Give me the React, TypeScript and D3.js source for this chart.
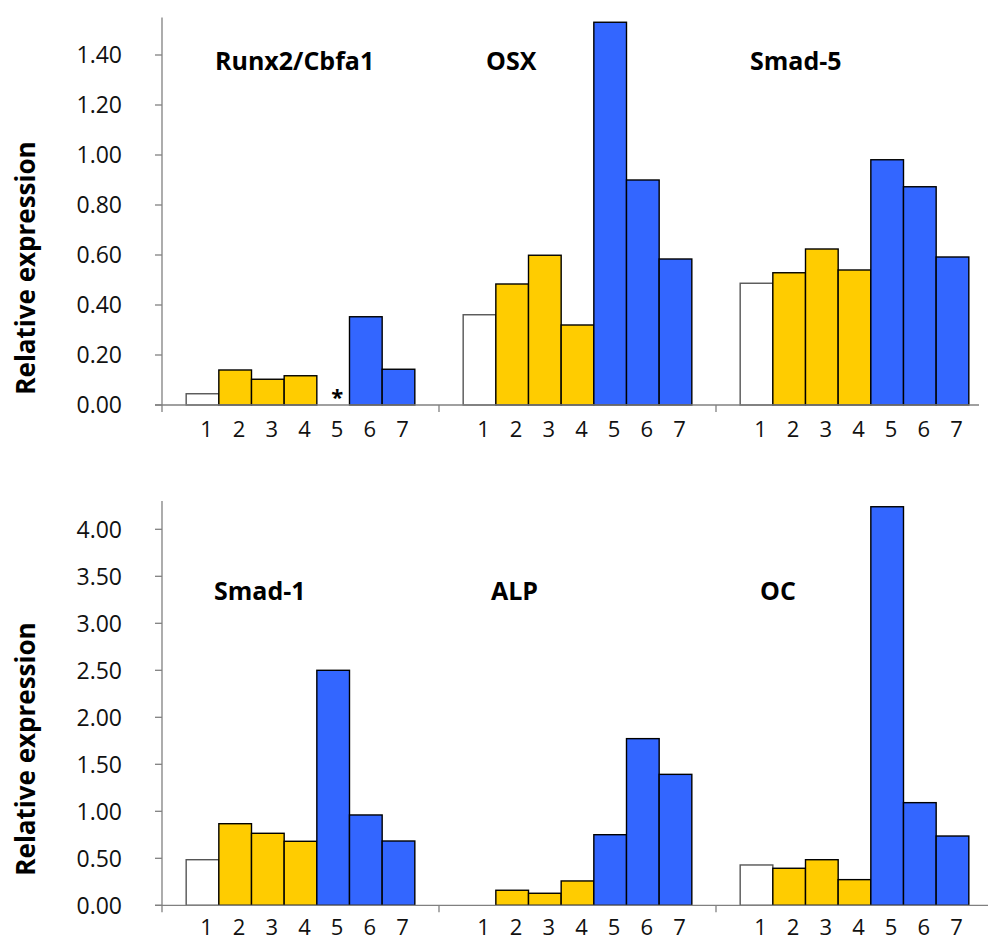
import React from 'react';
import * as d3 from 'd3';

// sample groups 1..7 under each gene
const conditions = ['1', '2', '3', '4', '5', '6', '7'];

const topGenes = ['Runx2/Cbfa1', 'OSX', 'Smad-5'];
const runx2 = [0.045, 0.14, 0.103, 0.117, null, 0.353, 0.143];
const osx = [0.361, 0.484, 0.599, 0.32, 1.531, 0.9, 0.584];
const smad5 = [0.487, 0.529, 0.624, 0.54, 0.981, 0.873, 0.592];

const bottomGenes = ['Smad-1', 'ALP', 'OC'];
const smad1 = [0.485, 0.868, 0.766, 0.681, 2.5, 0.961, 0.684];
const alp = [0, 0.16, 0.128, 0.259, 0.751, 1.773, 1.393];
const oc = [0.429, 0.394, 0.485, 0.273, 4.24, 1.092, 0.737];

const topTicks = [0, 0.2, 0.4, 0.6, 0.8, 1.0, 1.2, 1.4];
const bottomTicks = [0, 0.5, 1.0, 1.5, 2.0, 2.5, 3.0, 3.5, 4.0];

const W = 988;
const H = 941;
const FONT = '"Open Sans", sans-serif';
const axisColor = '#808080';

// panel boundaries along the x axis
const panelEdges = [162, 439, 716, 993];

const barFill = (i: number) => (i === 0 ? '#ffffff' : i < 4 ? '#ffcc00' : '#3366ff');
const barStroke = (i: number) => (i === 0 ? '#555555' : '#000000');

interface RowProps {
  genes: string[];
  series: (number | null)[][];
  ticks: number[];
  yMax: number;
  y0: number;
  y1: number;
  titleX: number[];
  titleY: number;
  labelY: number;
  yLabelMid: number;
  axisEnd: number;
  star?: number;
}

const Row: React.FC<RowProps> = ({ genes, series, ticks, yMax, y0, y1, titleX, titleY, labelY, yLabelMid, axisEnd, star }) => {
  const y = d3.scaleLinear().domain([0, yMax]).range([y0, y1]);
  const axisX = panelEdges[0];

  return (
    <g>
      {/* y axis */}
      <line x1={axisX} x2={axisX} y1={y(yMax)} y2={y(0) + 7} stroke={axisColor} strokeWidth={1.3} />
      {ticks.map(t => (
        <g key={t}>
          <line x1={axisX - 7} x2={axisX} y1={y(t)} y2={y(t)} stroke={axisColor} strokeWidth={1.3} />
          <text x={122} y={y(t)} dy="0.36em" textAnchor="end" fontFamily={FONT} fontSize={23} fill="#111">
            {d3.format('.2f')(t)}
          </text>
        </g>
      ))}
      <text
        transform={`translate(35,${yLabelMid}) rotate(-90)`}
        textAnchor="middle"
        fontFamily={FONT}
        fontWeight="bold"
        fontSize={26}
        fill="#000"
      >
        Relative expression
      </text>

      {genes.map((gene, gi) => {
        const x = d3
          .scaleBand()
          .domain(conditions)
          .range([panelEdges[gi], panelEdges[gi + 1]])
          .paddingInner(0)
          .paddingOuter(0.74);
        return (
          <g key={gene}>
            {series[gi].map((v, i) =>
              v == null || v === 0 ? null : (
                <rect
                  key={i}
                  x={x(conditions[i])!}
                  y={y(v)}
                  width={x.bandwidth()}
                  height={y(0) - y(v)}
                  fill={barFill(i)}
                  stroke={barStroke(i)}
                  strokeWidth={1.4}
                />
              )
            )}
            {conditions.map(c => (
              <text
                key={c}
                x={x(c)! + x.bandwidth() / 2 + 4}
                y={labelY}
                textAnchor="middle"
                fontFamily={FONT}
                fontSize={22}
                fill="#111"
              >
                {c}
              </text>
            ))}
            {gi === 0 && star != null && (
              <text
                x={x(conditions[star])! + x.bandwidth() / 2 + 4}
                y={y(0) - 2}
                textAnchor="middle"
                fontFamily={FONT}
                fontWeight="bold"
                fontSize={22}
                dy="0.1em"
              >
                *
              </text>
            )}
            <text x={panelEdges[gi] + titleX[gi]} y={titleY} fontFamily={FONT} fontWeight="bold" fontSize={25} fill="#000">
              {gene}
            </text>
            {gi > 0 && (
              <line x1={panelEdges[gi]} x2={panelEdges[gi]} y1={y(0)} y2={y(0) + 7} stroke={axisColor} strokeWidth={1.3} />
            )}
          </g>
        );
      })}

      {/* x axis */}
      <line x1={axisX - 7} x2={axisEnd} y1={y(0)} y2={y(0)} stroke={axisColor} strokeWidth={1.3} />
    </g>
  );
};

const App: React.FC = () => {
  return (
    <svg width={W} height={H} style={{ position: 'absolute', left: 0, top: 0, background: '#fff' }}>
      <rect width={W} height={H} fill="#fff" />
      <Row
        genes={topGenes}
        series={[runx2, osx, smad5]}
        ticks={topTicks}
        yMax={1.55}
        y0={405}
        y1={405 - 1.55 * 250}
        titleX={[53, 47, 34]}
        titleY={70}
        labelY={437}
        yLabelMid={268}
        axisEnd={979}
        star={4}
      />
      <Row
        genes={bottomGenes}
        series={[smad1, alp, oc]}
        ticks={bottomTicks}
        yMax={4.3}
        y0={905.3}
        y1={905.3 - 4.3 * 94}
        titleX={[52, 52, 44]}
        titleY={600}
        labelY={935}
        yLabelMid={749}
        axisEnd={988}
      />
    </svg>
  );
};

export default App;
